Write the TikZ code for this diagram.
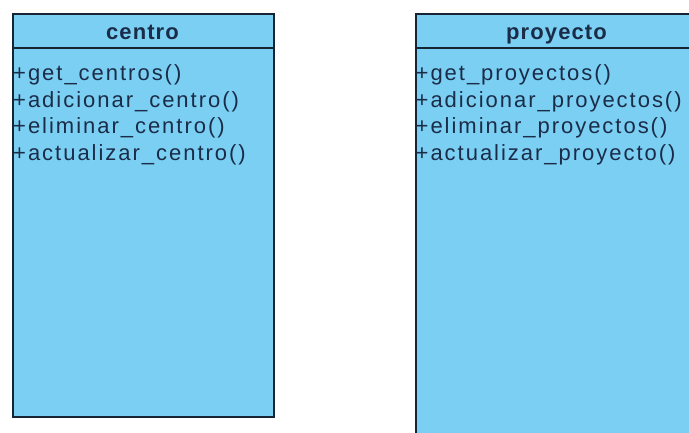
\documentclass[tikz,border=0pt]{standalone}
\usepackage{fontspec}
\setmainfont{Liberation Sans}
\newfontfamily\opfont[LetterSpace=9]{Liberation Sans}
\newfontfamily\hdfont[LetterSpace=5]{Liberation Sans}
\definecolor{boxfill}{RGB}{123,207,242}
\definecolor{boxline}{RGB}{22,36,52}
\definecolor{txtcol}{RGB}{26,44,72}
\tikzset{
  classbox/.style={draw=boxline, fill=boxfill, line width=2pt, inner sep=0pt, anchor=north west},
  divider/.style={draw=boxline, line width=2pt},
  classname/.style={font=\hdfont\bfseries\fontsize{22}{22}\selectfont, text=txtcol, inner sep=0pt, anchor=base},
  operation/.style={font=\opfont\fontsize{22}{22}\selectfont, text=txtcol, inner sep=0pt, anchor=base west}
}
\begin{document}
\begin{tikzpicture}[x=1pt,y=-1pt]
\useasboundingbox (0,0) rectangle (689,433);
\clip (0,0) rectangle (689,433);
\fill[white] (0,0) rectangle (689,433);

% class "centro"
\node[classbox, minimum width=261pt, minimum height=403pt] (cbox) at (12,12.7) {};
\coordinate (cdl) at (12,48);
\coordinate (cdr) at (273,48);
\draw[divider] (cdl) -- (cdr);
\node[classname] (cname) at (142.5,39.5) {centro};
\node[operation] (c1) at (13,81) {+get\_centros()};
\node[operation] (c2) at (13,107.5) {+adicionar\_centro()};
\node[operation] (c3) at (13,134) {+eliminar\_centro()};
\node[operation] (c4) at (13,160.5) {+actualizar\_centro()};

% class "proyecto" (runs past the right and bottom edges)
\node[classbox, minimum width=300pt, minimum height=440pt] (pbox) at (414.5,12.7) {};
\coordinate (pdl) at (414.5,48);
\coordinate (pdr) at (714.5,48);
\draw[divider] (pdl) -- (pdr);
\node[classname] (pname) at (556.5,39.5) {proyecto};
\node[operation] (p1) at (415.5,81) {+get\_proyectos()};
\node[operation] (p2) at (415.5,107.5) {+adicionar\_proyectos()};
\node[operation] (p3) at (415.5,134) {+eliminar\_proyectos()};
\node[operation] (p4) at (415.5,160.5) {+actualizar\_proyecto()};
\end{tikzpicture}
\end{document}
